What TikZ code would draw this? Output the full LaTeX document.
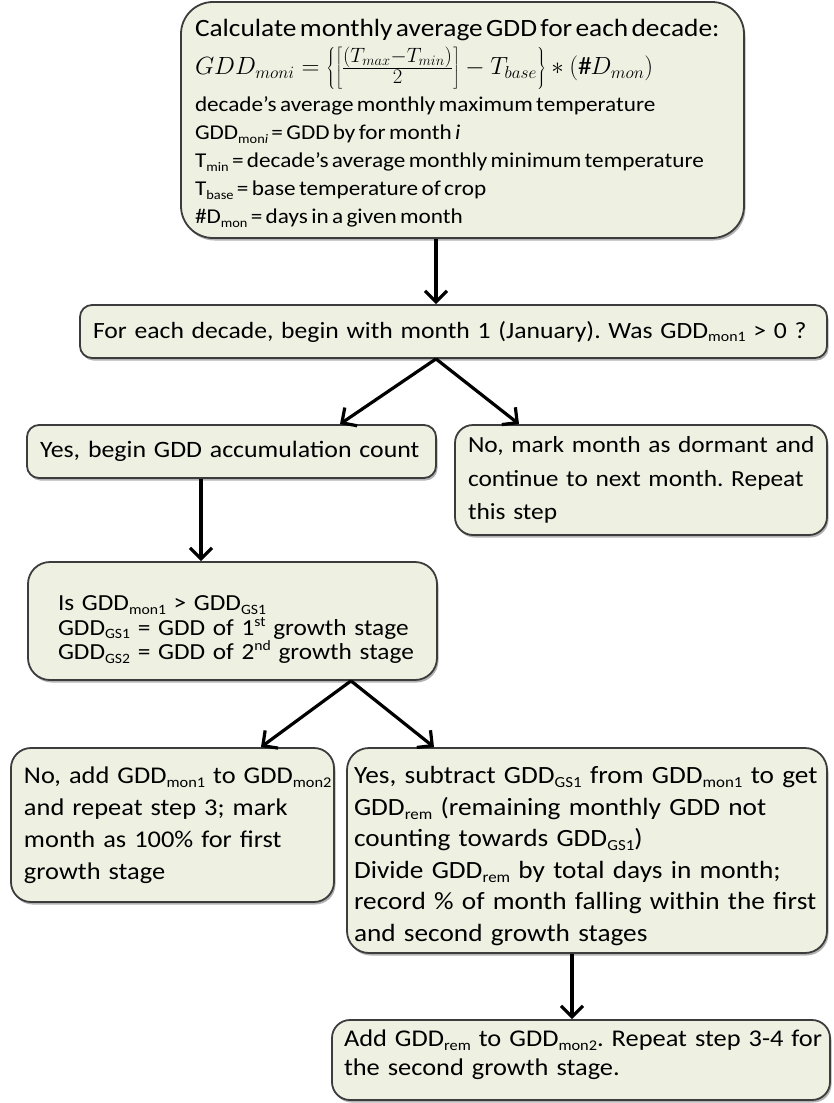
\documentclass[tikz,border=0pt]{standalone}
\usepackage{fontspec}
\setmainfont[FakeStretch=1.1]{Carlito}
\usetikzlibrary{arrows.meta,shadows,calc}
\definecolor{boxfill}{HTML}{EEF0E2}
\definecolor{boxline}{HTML}{3C3C3C}
\newcommand\sbs[1]{\raisebox{-0.35ex}{\scalebox{0.62}{#1}}}
\newcommand\sps[1]{\raisebox{0.8ex}{\scalebox{0.62}{#1}}}
\newcommand\fracpart[1]{\hbox{\fontsize{20}{20}\selectfont$#1$}}
\frenchspacing
\begin{document}
\begin{tikzpicture}[x=1pt,y=-1pt,
  box/.style={draw=boxline, line width=1.8pt, fill=boxfill, rounded corners=12pt,
    align=left, inner ysep=0pt,
    drop shadow={shadow xshift=1.5pt, shadow yshift=-2.5pt, opacity=0.3, fill=black}},
  arr/.style={line width=3.2pt, -{Straight Barb[length=11pt,width=22pt,line width=3.2pt]}}]
\useasboundingbox (0,0) rectangle (834,1103);

\node[box, rounded corners=32pt, minimum width=563pt, minimum height=236pt,
  inner xsep=12pt, text width=539pt] (top) at (462.5,120) {%
  \fontsize{24.9}{28}\selectfont\hspace*{2pt}\rule{0pt}{24pt}Calculate monthly average GDD for each decade:\par
  \fontsize{25}{38}\selectfont\hspace*{2pt}$GDD_{moni} = \left\{\left[\frac{\fracpart{(T_{max}{-}T_{min})}}{\fracpart{2}}\rule[-13pt]{0pt}{33pt}\right] - T_{base}\right\} * (\#D_{mon})$\par
  \fontsize{21.1}{37}\selectfont\hspace*{2pt}decade’s average monthly maximum temperature\par
  \fontsize{21.1}{28}\selectfont
  \hspace*{2pt}GDD\sbs{mon\textit{i}} = GDD by for month \textit{i}\par
  \hspace*{2pt}T\sbs{min} = decade’s average monthly minimum temperature\par
  \hspace*{2pt}T\sbs{base} = base temperature of crop\par
  \hspace*{2pt}\#D\sbs{mon} = days in a given month\par};

\node[box, font=\fontsize{23.3}{33}\selectfont, minimum width=747pt, minimum height=53pt, inner xsep=13pt,
  text width=721pt] (b2) at (453.5,331.5)
  {For each decade, begin with month 1 (January). Was GDD\sbs{mon1} > 0 ?};

\node[box, font=\fontsize{23.5}{33}\selectfont, minimum width=409pt, minimum height=53pt, inner xsep=13pt,
  text width=383pt] (b3L) at (231.5,451.5)
  {Yes, begin GDD accumulation count};

\node[box, font=\fontsize{23.1}{33.5}\selectfont, minimum width=372pt, minimum height=110pt, inner xsep=10pt,
  text width=352pt, rounded corners=18pt] (b3R) at (641,480)
  {\hspace*{3pt}\mbox{No, mark month as dormant and}\\\hspace*{3pt}\mbox{continue to next month. Repeat}\\\hspace*{3pt}this step};

\node[box, font=\fontsize{23}{24.5}\selectfont, minimum width=409pt, minimum height=118pt, inner xsep=18pt,
  text width=373pt, rounded corners=22pt] (b4) at (232.5,621)
  {\hspace*{12pt}\rule{0pt}{32pt}Is GDD\sbs{mon1} > GDD\sbs{GS1}\\
   \hspace*{12pt}\mbox{GDD\sbs{GS1} = GDD of 1\sps{st} growth stage}\\
   \hspace*{12pt}\mbox{GDD\sbs{GS2} = GDD of 2\sps{nd} growth stage}};

\node[box, font=\fontsize{24}{32}\selectfont, minimum width=323pt, minimum height=154pt, inner xsep=8pt,
  text width=307pt, rounded corners=20pt] (b5L) at (172.5,825)
  {\hspace*{5pt}\mbox{No, add GDD\sbs{mon1} to GDD\sbs{mon2}}\\\hspace*{5pt}and repeat step 3; mark\\\hspace*{5pt}month as 100\% for first\\\hspace*{5pt}growth stage};

\node[box, font=\fontsize{24.8}{31.5}\selectfont, minimum width=480pt, minimum height=205pt, inner xsep=5pt,
  text width=470pt, rounded corners=22pt] (b5R) at (587,850.5)
  {\hspace*{2pt}\rule{0pt}{28pt}\mbox{Yes, subtract GDD\sbs{GS1} from GDD\sbs{mon1} to get}\\
   \hspace*{2pt}GDD\sbs{rem} (remaining monthly GDD not\\
   \hspace*{2pt}counting towards GDD\sbs{GS1})\\
   \hspace*{2pt}Divide GDD\sbs{rem} by total days in month;\\
   \hspace*{2pt}\mbox{record \% of month falling within the first}\\
   \hspace*{2pt}and second growth stages};

\node[box, font=\fontsize{24}{29}\selectfont, minimum width=498pt, minimum height=80pt, inner xsep=8pt,
  text width=482pt, rounded corners=18pt] (b6) at (581,1060)
  {\hspace*{4pt}\mbox{Add GDD\sbs{rem} to GDD\sbs{mon2}. Repeat step 3-4 for}\\\hspace*{4pt}the second growth stage.\rule[-15pt]{0pt}{0pt}};

\draw[arr] ([xshift=-26.5pt]top.south) -- ([xshift=-17.5pt]b2.north);
\draw[arr] ([xshift=-17.5pt]b2.south) -- ([xshift=108.5pt]b3L.north);
\draw[arr] ([xshift=-17.5pt]b2.south) -- ([xshift=-122pt]b3R.north);
\draw[arr] ([xshift=-30.5pt]b3L.south) -- ([xshift=-31.5pt]b4.north);
\draw[arr] ([xshift=118.5pt]b4.south) -- ([xshift=88.5pt]b5L.north);
\draw[arr] ([xshift=118.5pt]b4.south) -- ([xshift=-153pt]b5R.north);
\draw[arr] ([xshift=-15pt]b5R.south) -- ([xshift=-9pt]b6.north);
\end{tikzpicture}
\end{document}
